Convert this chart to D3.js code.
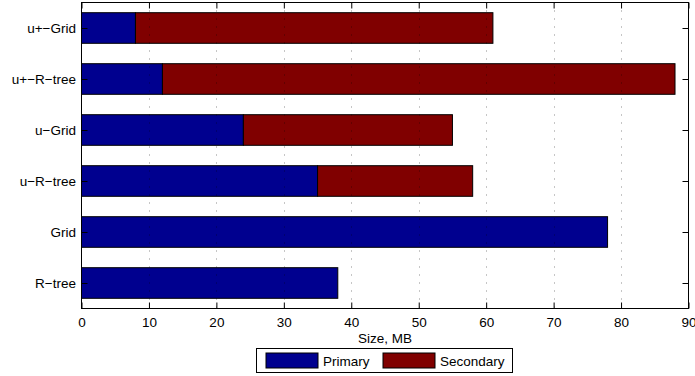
<!DOCTYPE html>
<html>
<head>
<meta charset="utf-8">
<script src="https://cdn.jsdelivr.net/npm/d3@7"></script>
<style>
  html, body { margin: 0; padding: 0; background: #fff; }
  svg { display: block; font-family: "Liberation Sans", Arial, Helvetica, sans-serif; }
</style>
</head>
<body>
<svg id="chart" width="695" height="376"></svg>
<script>
// Index structures, listed top to bottom
const categories = ["u+−Grid", "u+−R−tree", "u−Grid", "u−R−tree", "Grid", "R−tree"];
// Storage size in MB for each part
const primary   = [8, 12, 24, 35, 78, 38];
const secondary = [53, 76, 31, 23, 0, 0];
const seriesNames = ["Primary", "Secondary"];
const seriesColors = ["#00008F", "#800000"];
const xTicks = [0, 10, 20, 30, 40, 50, 60, 70, 80, 90];
const xLabel = "Size, MB";

const svg = d3.select("#chart");
const plotL = 81.5, plotR = 688.5, plotT = 2.5, plotB = 308.5;
const fontSize = 13.5;

const x = d3.scaleLinear().domain([0, 90]).range([plotL, plotR]);
// one unit per category, first category at the top
const y = d3.scaleLinear().domain([0.5, categories.length + 0.5]).range([plotT, plotB]);
const barH = (y(1) - y(0)) * 0.6;

const rows = categories.map((c, i) => ({ name: c, pos: i + 1, vals: [primary[i], secondary[i]] }));
const stacked = [];
rows.forEach(r => {
  let acc = 0;
  r.vals.forEach((v, k) => {
    if (v > 0) stacked.push({ pos: r.pos, x0: acc, x1: acc + v, k });
    acc += v;
  });
});

svg.append("g").selectAll("rect")
  .data(stacked).join("rect")
  .attr("x", d => x(d.x0))
  .attr("y", d => y(d.pos) - barH / 2)
  .attr("width", d => x(d.x1) - x(d.x0))
  .attr("height", barH)
  .attr("fill", d => seriesColors[d.k])
  .attr("stroke", "#000")
  .attr("stroke-width", 1);

// dotted vertical grid drawn over the bars
svg.append("g").selectAll("line")
  .data(xTicks.slice(1, -1)).join("line")
  .attr("x1", d => Math.round(x(d)) + 0.5).attr("x2", d => Math.round(x(d)) + 0.5)
  .attr("y1", plotT).attr("y2", plotB)
  .attr("stroke", "#000").attr("stroke-opacity", 0.45)
  .attr("stroke-width", 1).attr("stroke-dasharray", "1,7");

// axes with inward ticks
const styleAxis = g => {
  g.select(".domain").remove();
  g.selectAll(".tick line").attr("stroke", "#000");
  g.selectAll("text").attr("font-size", fontSize).attr("fill", "#000")
    .attr("font-family", "'Liberation Sans', Arial, sans-serif");
};

svg.append("g").attr("transform", `translate(0,${plotB})`)
  .call(d3.axisBottom(x).tickValues(xTicks).tickSize(-6).tickSizeOuter(0).tickPadding(9))
  .call(styleAxis);
svg.append("g").attr("transform", `translate(0,${plotT})`)
  .call(d3.axisTop(x).tickValues(xTicks).tickSize(-6).tickSizeOuter(0).tickFormat(""))
  .call(styleAxis);
svg.append("g").attr("transform", `translate(${plotL},0)`)
  .call(d3.axisLeft(y).tickValues(rows.map(r => r.pos)).tickFormat((d, i) => categories[i])
    .tickSize(-6).tickSizeOuter(0).tickPadding(5.5))
  .call(styleAxis);
svg.append("g").attr("transform", `translate(${plotR},0)`)
  .call(d3.axisRight(y).tickValues(rows.map(r => r.pos)).tickSize(-6).tickSizeOuter(0).tickFormat(""))
  .call(styleAxis);

// axes box
svg.append("rect")
  .attr("x", plotL).attr("y", plotT)
  .attr("width", plotR - plotL).attr("height", plotB - plotT)
  .attr("fill", "none").attr("stroke", "#000").attr("stroke-width", 1);

// x-axis title
svg.append("text")
  .attr("x", (plotL + plotR) / 2).attr("y", 343)
  .attr("text-anchor", "middle").attr("font-size", fontSize)
  .text(xLabel);

// legend
const lg = svg.append("g");
const lx = 256.5, ly = 348.5, lw = 256, lh = 24;
lg.append("rect").attr("x", lx).attr("y", ly).attr("width", lw).attr("height", lh)
  .attr("fill", "#fff").attr("stroke", "#000").attr("stroke-width", 1);
const itemX = [266, 383];
seriesNames.forEach((n, k) => {
  lg.append("rect")
    .attr("x", itemX[k]).attr("y", ly + 4.5)
    .attr("width", 52).attr("height", lh - 9)
    .attr("fill", seriesColors[k]).attr("stroke", "#000").attr("stroke-width", 1);
  lg.append("text")
    .attr("x", itemX[k] + 57).attr("y", ly + 17)
    .attr("font-size", fontSize)
    .text(n);
});
</script>
</body>
</html>
